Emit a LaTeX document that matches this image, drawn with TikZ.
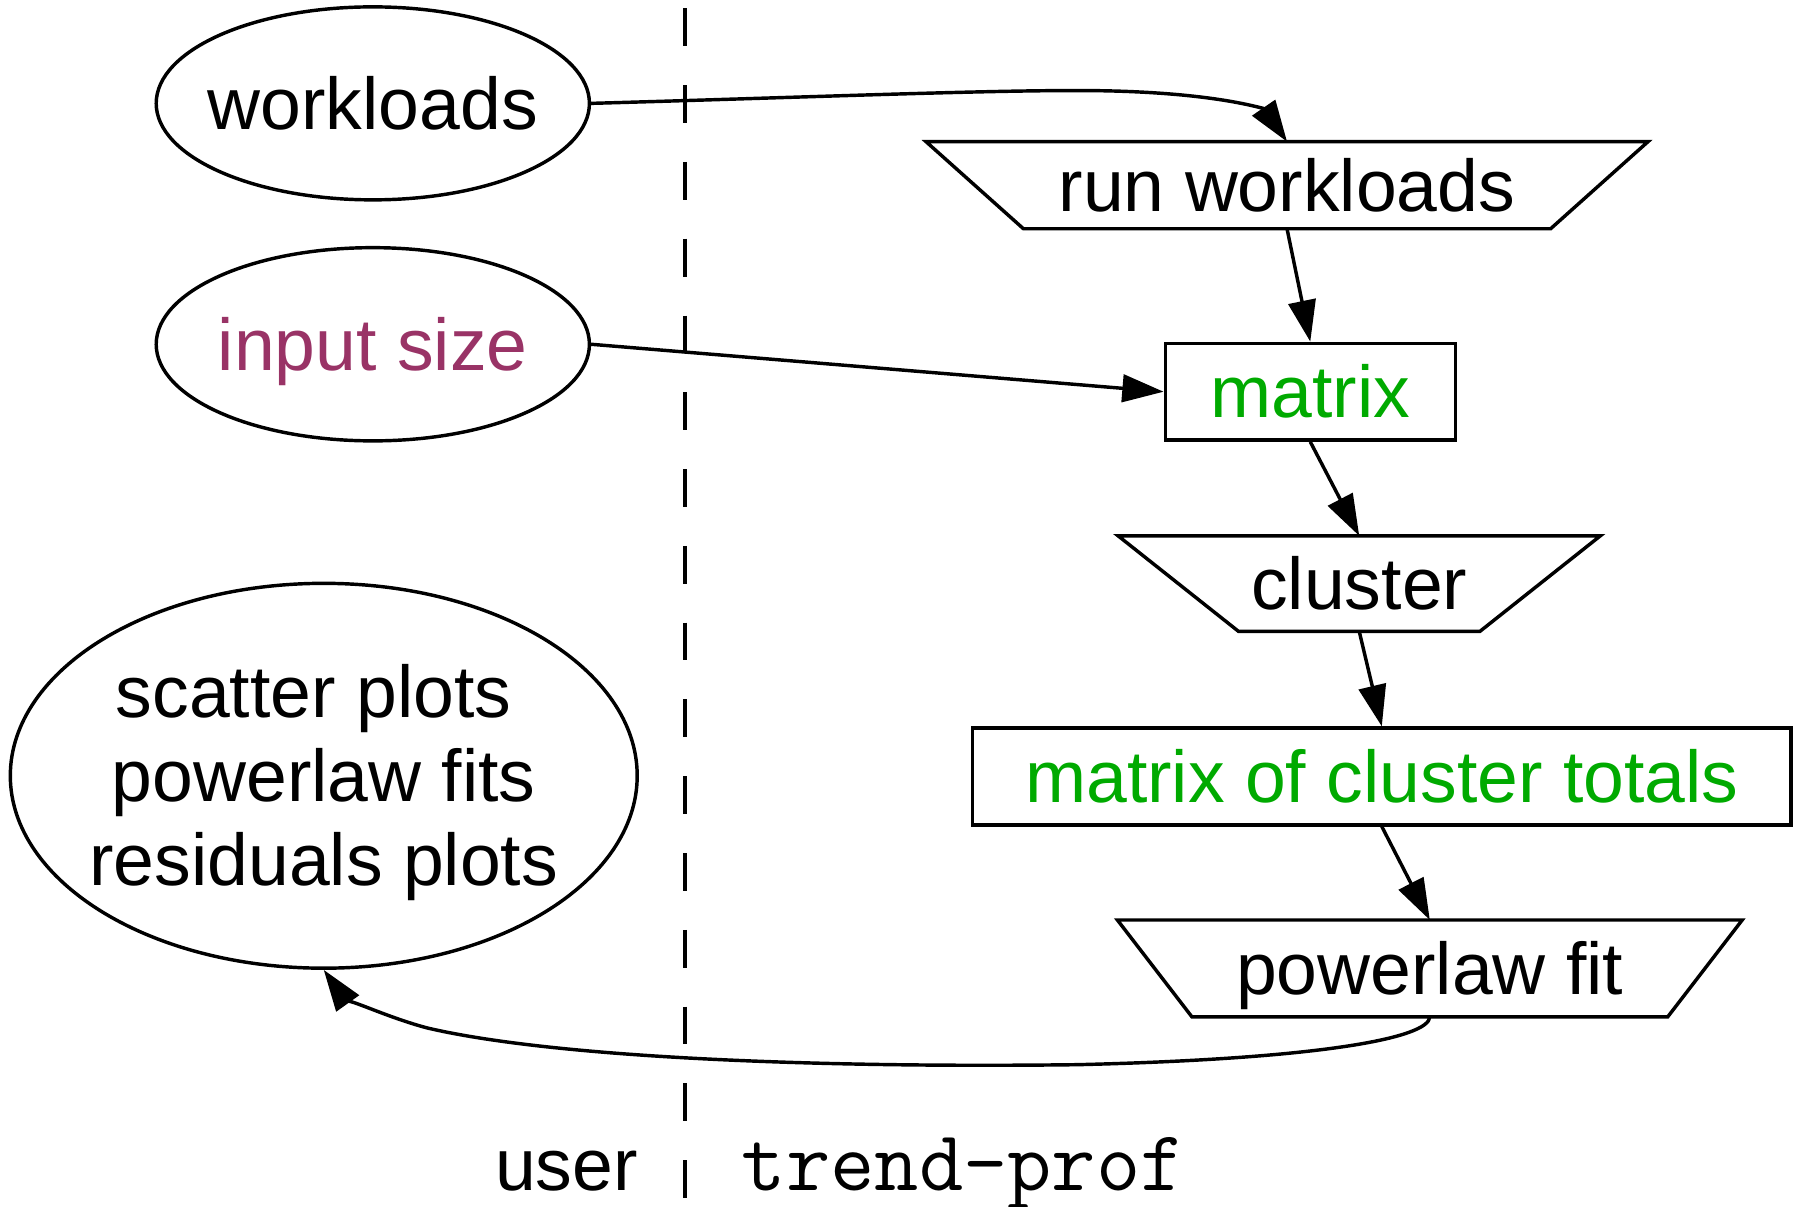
\documentclass[tikz,border=0pt]{standalone}
\usepackage{fontspec}
\setmainfont{Liberation Sans}
\usetikzlibrary{arrows.meta,calc,shapes.geometric}
\definecolor{datagreen}{HTML}{00AA00}
\definecolor{inputpurple}{HTML}{993366}
\begin{document}
\begin{tikzpicture}[x=0.5pt,y=-0.5pt,
  every node/.style={font=\fontsize{32}{36.6}\selectfont, inner sep=0pt,
    text height=22.9pt, text depth=0pt},
  shapeline/.style={line width=1.5pt, line join=miter},
  oval/.style={ellipse, draw, shapeline},
  box/.style={rectangle, draw, shapeline, minimum height=42.2pt},
  trapbox/.style={rectangle, outer sep=0pt, minimum height=42pt},
  flow/.style={line width=1.5pt, -{Triangle[length=18pt,width=12pt]}},
  divider/.style={line width=1.9pt, dash pattern=on 16.5pt off 17pt},
]
\useasboundingbox (0,0) rectangle (1568,1053);

% user side: inputs and results
\node[oval, minimum width=189pt, minimum height=84.2pt] (wl) at (325.3,90.2)
  {\makebox[0pt]{workloads}};
\node[oval, minimum width=189pt, minimum height=84.3pt] (in) at (325.3,300.4)
  {\makebox[0pt]{\color{inputpurple}input size}};
\node[oval, minimum width=273.5pt, minimum height=167.9pt,
      text height=29.5pt, text depth=80pt] (out) at (282.5,676.9)
  {\makebox[0pt]{\begin{tabular}[t]{@{}c@{}}scatter plots\hspace*{0.278em}\\powerlaw fits\\residuals plots\end{tabular}}};

% trend-prof side: processing steps and data
\node[trapbox, minimum width=315pt, minimum height=38pt] (rw) at (1123,161.6) {run workloads};
\node[box, minimum width=126.5pt, text=datagreen] (mat) at (1143.3,341.8) {matrix};
\node[trapbox, minimum width=210.4pt, minimum height=41.65pt] (cl) at (1186,509.2) {cluster};
\node[box, minimum width=356.9pt, text=datagreen] (mct) at (1205.7,677.5) {matrix of cluster totals};
\node[trapbox, minimum width=272.6pt, minimum height=42.25pt] (pf) at (1247.6,845) {powerlaw fit};

% inverted trapezia for the processing steps
\draw[shapeline] (rw.north west) -- (rw.north east) -- ($(rw.south east)+(-85,0)$)
  -- ($(rw.south west)+(85,0)$) -- cycle;
\draw[shapeline] (cl.north west) -- (cl.north east) -- ($(cl.south east)+(-105,0)$)
  -- ($(cl.south west)+(105,0)$) -- cycle;
\draw[shapeline] (pf.north west) -- (pf.north east) -- ($(pf.south east)+(-65,0)$)
  -- ($(pf.south west)+(65,0)$) -- cycle;

% divider between user and tool
\coordinate (divtop) at (597.6,7.3);
\coordinate (divbot) at (597.6,1053);
\draw[divider] (divtop) -- (divbot);
\node[anchor=base east] (userlbl) at (557,1039) {user};
\node[anchor=base west, font=\fontsize{37.5}{40}\selectfont\ttfamily] (toollbl) at (647,1039) {trend-prof};

% data flow
\draw[flow] (wl.east) .. controls (700,85) and (850,79) .. (940,79)
  .. controls (1060,79) and (1104,96) .. (rw.north);
\draw[flow] (rw.south) -- (mat.north);
\draw[flow] (in.east) -- (mat.west);
\draw[flow] (mat.south) -- (cl.north);
\draw[flow] (cl.south) -- (mct.north);
\draw[flow] (mct.south) -- (pf.north);
\draw[flow] (pf.south) .. controls (1247,906) and (1150,924) .. (940,929)
  .. controls (700,932) and (480,922) .. (373,897)
  .. controls (335,887) and (298,868) .. (out.south);
\end{tikzpicture}
\end{document}
